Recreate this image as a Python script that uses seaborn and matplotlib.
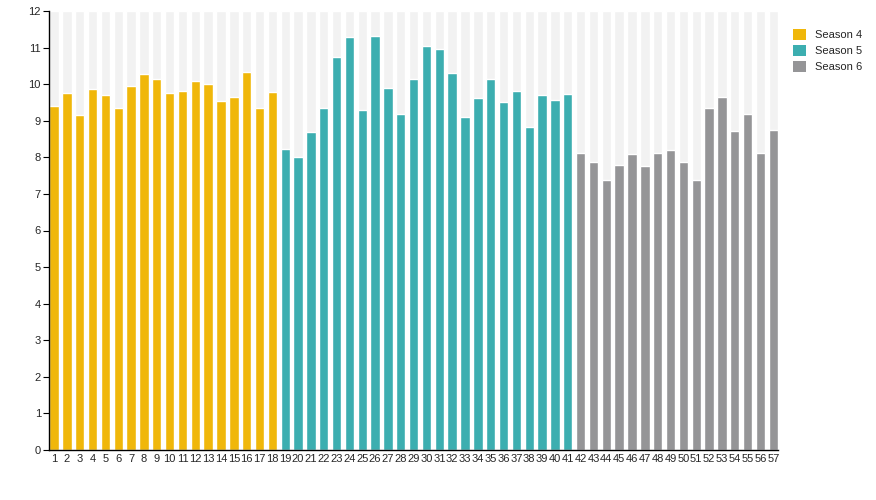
import matplotlib
matplotlib.use("Agg")
import matplotlib.pyplot as plt
from matplotlib.patches import Patch
import seaborn as sns
import pandas as pd

# ---- data ----
episodes = list(range(1, 58))
season4 = [9.39, 9.77, 9.17, 9.88, 9.71, 9.36, 9.95, 10.28, 10.15, 9.76,
           9.82, 10.09, 10.01, 9.55, 9.66, 10.34, 9.35, 9.79]
season5 = [8.24, 8.02, 8.70, 9.35, 10.75, 11.29, 9.30, 11.32, 9.90, 9.19,
           10.15, 11.05, 10.96, 10.31, 9.11, 9.63, 10.15, 9.52, 9.82, 8.84,
           9.71, 9.57, 9.74]
season6 = [8.13, 7.86, 7.37, 7.78, 8.08, 7.75, 8.11, 8.19, 7.86, 7.39,
           9.34, 9.65, 8.73, 9.19, 8.13, 8.75]
season_names = ["Season 4", "Season 5", "Season 6"]
season_colors = ["#F0B70A", "#3CAEB0", "#959597"]
y_ticks = list(range(0, 13))
y_max = 12

values = season4 + season5 + season6
seasons = ([season_names[0]] * len(season4) + [season_names[1]] * len(season5)
           + [season_names[2]] * len(season6))
order = [str(e) for e in episodes]
df = pd.DataFrame({"episode": order, "rating": values, "season": seasons})
bg = pd.DataFrame({"episode": order, "rating": [y_max] * len(order)})

sns.set_style("white")
plt.rcParams["font.family"] = ["Liberation Sans", "DejaVu Sans"]

fig = plt.figure(figsize=(8.76, 5.0), dpi=100)
ax = fig.add_axes([49.3 / 876, 50 / 500, (778 - 49.3) / 876, (450 - 11) / 500])

bw = 0.73
sns.barplot(data=bg, x="episode", y="rating", order=order, color="#F2F2F2",
            width=bw, saturation=1, ax=ax, errorbar=None)
sns.barplot(data=df, x="episode", y="rating", hue="season", order=order,
            hue_order=season_names, palette=season_colors, dodge=False,
            width=bw, saturation=1, ax=ax, errorbar=None, legend=False)

ax.set_xlim(-bw / 2, len(order) - 1 + bw / 2)
ax.set_ylim(0, y_max)
ax.set_yticks(y_ticks)
ax.set_yticklabels([str(t) for t in y_ticks])
ax.set_xlabel("")
ax.set_ylabel("")
for s in ["top", "right"]:
    ax.spines[s].set_visible(False)
for s in ["left", "bottom"]:
    ax.spines[s].set_visible(True)
    ax.spines[s].set_color("black")
    ax.spines[s].set_linewidth(1.0)
ax.tick_params(axis="y", length=4, width=0.8, color="black", labelsize=8, pad=2,
               left=True)
ax.tick_params(axis="x", length=0, labelsize=8, pad=3)
ax.grid(False)

handles = [Patch(facecolor=c, edgecolor="none") for c in season_colors]
fig.legend(handles, season_names, loc="upper left",
           bbox_to_anchor=(793 / 876, 1 - 29 / 500), frameon=False,
           fontsize=8, handlelength=1.2, handleheight=1.2, handletextpad=0.75,
           labelspacing=0.4, borderpad=0, borderaxespad=0)

fig.savefig("out.png", dpi=100)
